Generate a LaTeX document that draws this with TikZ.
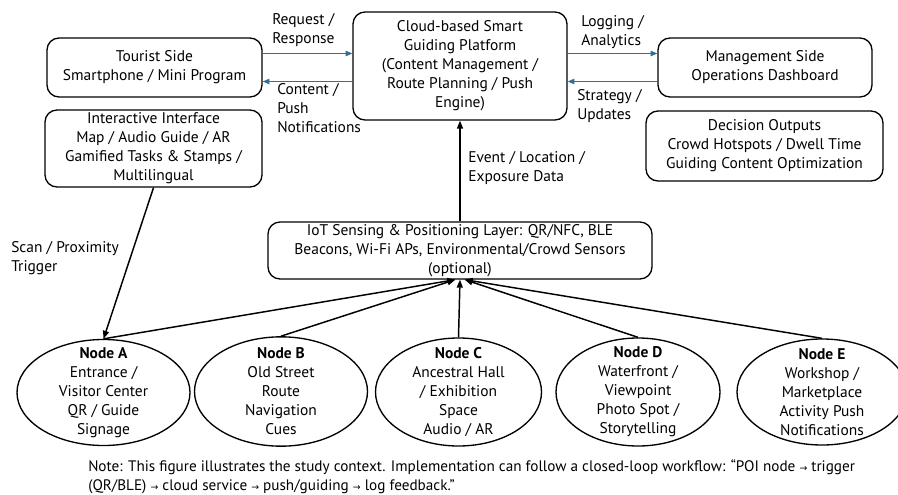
\documentclass[tikz,border=0pt]{standalone}
\usepackage{fontspec}
\setmainfont{PT Sans}
\newfontfamily\arrowfont{DejaVu Sans}
\usetikzlibrary{shapes.geometric,arrows.meta}
\definecolor{linkblue}{RGB}{50,110,150}
\newcommand{\flowto}{{\arrowfont\fontsize{7}{8}\selectfont →}}

\begin{document}
\begin{tikzpicture}[x=0.75pt,y=-0.75pt,
  txt/.style={font=\fontsize{11.6}{14.25}\selectfont},
  box/.style={txt, draw, line width=1pt, rounded corners=9pt, align=center, inner sep=0pt},
  poi/.style={draw, ellipse, line width=1pt, inner sep=0pt},
  lbl/.style={txt, align=left, inner sep=0pt, anchor=north west},
  flow/.style={draw=linkblue, line width=0.9pt, -{Triangle[length=5pt,width=4pt]}},
  feed/.style={draw=black, line width=1.1pt, -{Triangle[length=6pt,width=4.5pt]}}]

\useasboundingbox (0,0) rectangle (898,495);

% top row: clients and platform
\node[box, minimum width=161.25pt, minimum height=44.25pt] (tourist) at (154.5,67.5)
  {Tourist Side\\Smartphone / Mini Program};
\node[box, minimum width=160.5pt, minimum height=81pt] (cloud) at (460,66)
  {Cloud-based Smart\\Guiding Platform\\(Content Management /\\Route Planning / Push\\Engine)};
\node[box, minimum width=160.5pt, minimum height=44.25pt] (mgmt) at (765,67.5)
  {Management Side\\Operations Dashboard};
\node[box, minimum width=177.75pt, minimum height=52.5pt] (decision) at (764.5,146)
  {Decision Outputs\\Crowd Hotspots / Dwell Time\\Guiding Content Optimization};
\node[box, minimum width=162.75pt, minimum height=57.75pt] (ui) at (153.5,148.5)
  {Interactive Interface\\Map / Audio Guide / AR\\Gamified Tasks \& Stamps /\\Multilingual};
\node[box, minimum width=288pt, minimum height=42.75pt] (iot) at (460,250.5)
  {IoT Sensing \& Positioning Layer: QR/NFC, BLE\\Beacons, Wi-Fi APs, Environmental/Crowd Sensors\\(optional)};

% points of interest
\node[poi, minimum width=129.75pt, minimum height=79.5pt,
  label={[txt, align=center]center:{\textbf{Node A}\\Entrance /\\Visitor Center\\QR / Guide\\Signage}}] (nA) at (103.5,392.5) {};
\node[poi, minimum width=129.75pt, minimum height=82pt,
  label={[txt, align=center]center:{\textbf{Node B}\\Old Street\\Route\\Navigation\\Cues}}] (nB) at (281,391.5) {};
\node[poi, minimum width=124.5pt, minimum height=81pt,
  label={[txt, align=center]center:{\textbf{Node C}\\Ancestral Hall\\/ Exhibition\\Space\\Audio / AR}}] (nC) at (458.5,392) {};
\node[poi, minimum width=123pt, minimum height=81pt,
  label={[txt, align=center]center:{\textbf{Node D}\\Waterfront /\\Viewpoint\\Photo Spot /\\Storytelling}}] (nD) at (638,392) {};
\node[poi, minimum width=127.5pt, minimum height=79.5pt,
  label={[txt, align=center]center:{\textbf{Node E}\\Workshop /\\Marketplace\\Activity Push\\Notifications}}] (nE) at (822,392) {};

% data exchange with the platform
\draw[flow] ([yshift=10.5pt]tourist.east) -- ([yshift=10.5pt]tourist.east -| cloud.west);
\draw[flow] ([yshift=-10.5pt]tourist.east -| cloud.west) -- ([yshift=-10.5pt]tourist.east);
\draw[flow] ([yshift=10.5pt]mgmt.west -| cloud.east) -- ([yshift=10.5pt]mgmt.west);
\draw[flow] ([yshift=-10.5pt]mgmt.west) -- ([yshift=-10.5pt]mgmt.west -| cloud.east);

\node[lbl] (lreq) at (272,13) {Request /\\Response};
\node[lbl] (lcont) at (277,83) {Content /\\Push\\Notifications};
\node[lbl] (llog) at (581,15) {Logging /\\Analytics};
\node[lbl] (lstrat) at (577,89) {Strategy /\\Updates};

% sensing and triggers
\draw[feed] (iot.north) -- (cloud.south);
\node[lbl] (levent) at (468,151) {Event / Location /\\Exposure Data};

\draw[feed] (ui.south) -- (nA.north);
\node[lbl] (lscan) at (11,241) {Scan / Proximity\\Trigger};

\draw[feed] (nA.north) -- ([xshift=-3.5pt]iot.south);
\draw[feed] (nB.north) -- ([xshift=-3.5pt]iot.south);
\draw[feed] (nC.north) -- (iot.south);
\draw[feed] (nD.north) -- ([xshift=3.5pt]iot.south);
\draw[feed] (nE.north) -- ([xshift=3.5pt]iot.south);

% caption
\node[lbl, font=\fontsize{11.4}{14.25}\selectfont] (note) at (88,459) {Note: This figure illustrates the study context. Implementation can follow a closed-loop workflow: “POI node \flowto{} trigger\\(QR/BLE) \flowto{} cloud service \flowto{} push/guiding \flowto{} log feedback.”};
\end{tikzpicture}
\end{document}
